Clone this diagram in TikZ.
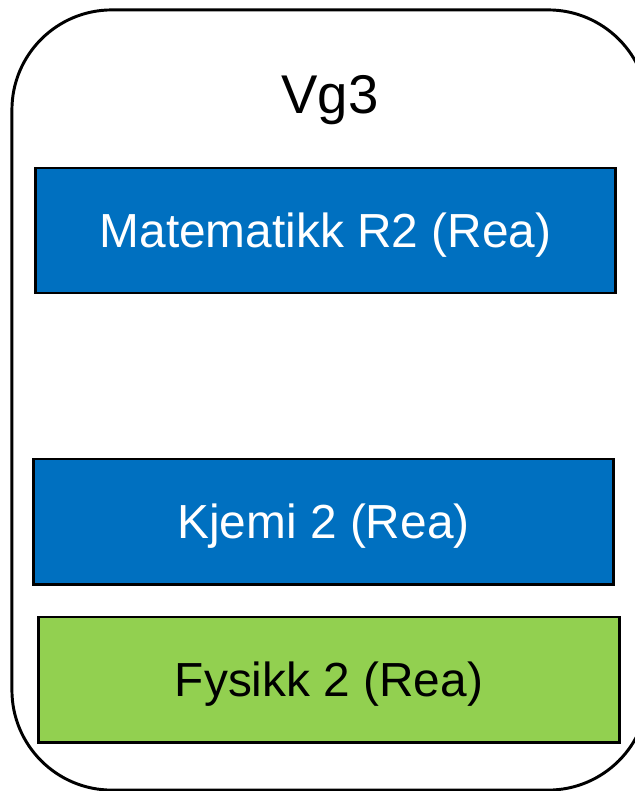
\documentclass[tikz,border=0pt]{standalone}
\usepackage{fontspec}
\setmainfont{Liberation Sans}
\usepackage{xcolor}
\usetikzlibrary{positioning}

\definecolor{reablue}{HTML}{0070C0}
\definecolor{reagreen}{HTML}{92D050}

\begin{document}
\begin{tikzpicture}[x=0.025cm,y=-0.025cm,
		subject/.style={draw=black,line width=2.1pt,inner sep=0pt,
			minimum width=14.5cm,minimum height=3.125cm,text depth=0pt,
			font=\fontsize{34}{40}\selectfont},
		bluebox/.style={subject,fill=reablue,text=white},
		greenbox/.style={subject,fill=reagreen,text=black}]
		\useasboundingbox (0,0) rectangle (635,791);
		\clip (0,0) rectangle (635,791);
		% outer frame
		\node[draw=black,line width=2.1pt,rounded corners=2.5cm,
			minimum width=15.9cm,minimum height=19.5cm,inner sep=0pt] (frame) at (330,400) {};
		\node[anchor=base,font=\fontsize{38.8}{46}\selectfont] (vg) at (330,113) {Vg3};
		%
		\node[bluebox] (R2) at (325.5,230.5) {Matematikk R2 (Rea)};
		\node[bluebox] (kjemi) at (323.5,521.5) {Kjemi 2 (Rea)};
		\node[greenbox] (fysikk) at (329,679.5) {Fysikk 2 (Rea)};
	\end{tikzpicture}
\end{document}
